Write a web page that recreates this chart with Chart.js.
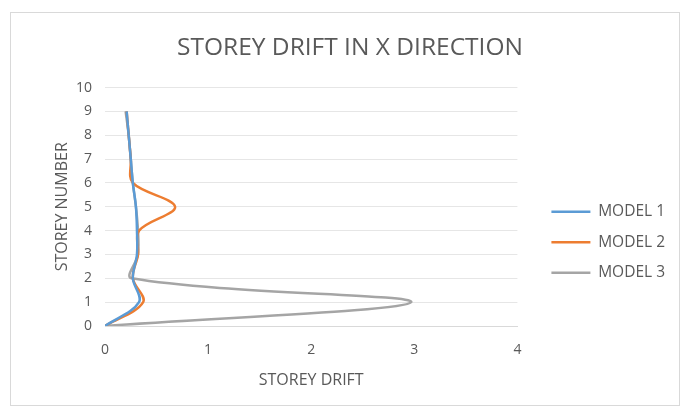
<!DOCTYPE html>
<html>
<head>
<meta charset="utf-8">
<script src="https://cdn.jsdelivr.net/npm/chart.js@4"></script>
<style>
  html, body { margin: 0; padding: 0; background: #fff; }
  #marco {
    position: absolute; left: 10px; top: 12px;
    width: 668px; height: 392px;
    border: 1px solid #d9d9d9; background: #fff;
  }
  canvas { display: block; }
</style>
</head>
<body>
<div id="marco"><canvas id="derivaChart" width="668" height="392"></canvas></div>
<script>
// Datos (deriva de piso vs número de piso)
const pisos = [0, 1, 2, 3, 4, 5, 6, 7, 8, 9];
const modelo1 = [0, 0.33, 0.27, 0.31, 0.31, 0.30, 0.27, 0.25, 0.23, 0.21];
const modelo2 = [0, 0.37, 0.27, 0.32, 0.33, 0.68, 0.27, 0.25, 0.23, 0.21];
const modelo3 = [0, 2.97, 0.26, 0.32, 0.32, 0.30, 0.27, 0.25, 0.23, 0.20];
const nombres = ["MODEL 1", "MODEL 2", "MODEL 3"];
const colores = ["#5b9bd5", "#ed7d31", "#a5a5a5"];

const TEXTO = "#595959";
const FUENTE = "'Open Sans', 'Noto Sans', sans-serif";

const puntos = (serie) => serie.map((x, i) => ({ x, y: pisos[i] }));

new Chart(document.getElementById("derivaChart"), {
  type: "scatter",
  data: {
    datasets: [modelo1, modelo2, modelo3].map((serie, i) => ({
      label: nombres[i],
      data: puntos(serie),
      showLine: true,
      borderColor: colores[i],
      backgroundColor: colores[i],
      borderWidth: 2.5,
      pointRadius: 0,
      tension: 0.35,
      fill: false,
    })),
  },
  options: {
    responsive: false,
    animation: false,
    layout: { padding: { left: 14, right: 4, top: 10, bottom: 6 } },
    plugins: {
      title: {
        display: true,
        text: "STOREY DRIFT IN X DIRECTION",
        color: TEXTO,
        font: { family: FUENTE, size: 24.5, weight: "normal" },
        padding: { top: 10.6, bottom: 24.6 },
      },
      legend: {
        position: "right",
        maxWidth: 220,
        // título vacío para bajar las entradas como en el original
        title: { display: true, text: " ", font: { size: 12 }, padding: { top: 0, bottom: 48 } },
        labels: {
          color: TEXTO,
          font: { family: FUENTE, size: 15.5 },
          usePointStyle: true,
          pointStyle: "line",
          pointStyleWidth: 39,
          padding: 15,
        },
      },
      tooltip: { enabled: false },
    },
    scales: {
      x: {
        min: 0, max: 4,
        ticks: { stepSize: 1, color: TEXTO, font: { family: FUENTE, size: 14 }, padding: 15.6 },
        grid: { display: false, drawTicks: false },
        border: { color: "#d9d9d9" },
        title: {
          display: true, text: "STOREY DRIFT", color: TEXTO,
          font: { family: FUENTE, size: 16 }, padding: { top: 2, bottom: 9.4 },
        },
        afterFit: (s) => { s.height = 73; },
      },
      y: {
        min: 0, max: 10,
        ticks: { stepSize: 1, color: TEXTO, font: { family: FUENTE, size: 14 }, padding: 13 },
        grid: { color: "#e6e6e6", drawTicks: false },
        border: { display: false },
        title: {
          display: true, text: "STOREY NUMBER", color: TEXTO,
          font: { family: FUENTE, size: 16 }, padding: { top: 27.4, bottom: 2 },
        },
        afterFit: (s) => { s.width = 80; },
      },
      // eje vacío: sólo separa el área de trazado de la leyenda
      separador: {
        position: "right",
        display: true,
        ticks: { display: false },
        grid: { display: false, drawTicks: false },
        border: { display: false },
        afterFit: (s) => { s.width = 19; },
      },
    },
  },
});
</script>
</body>
</html>
